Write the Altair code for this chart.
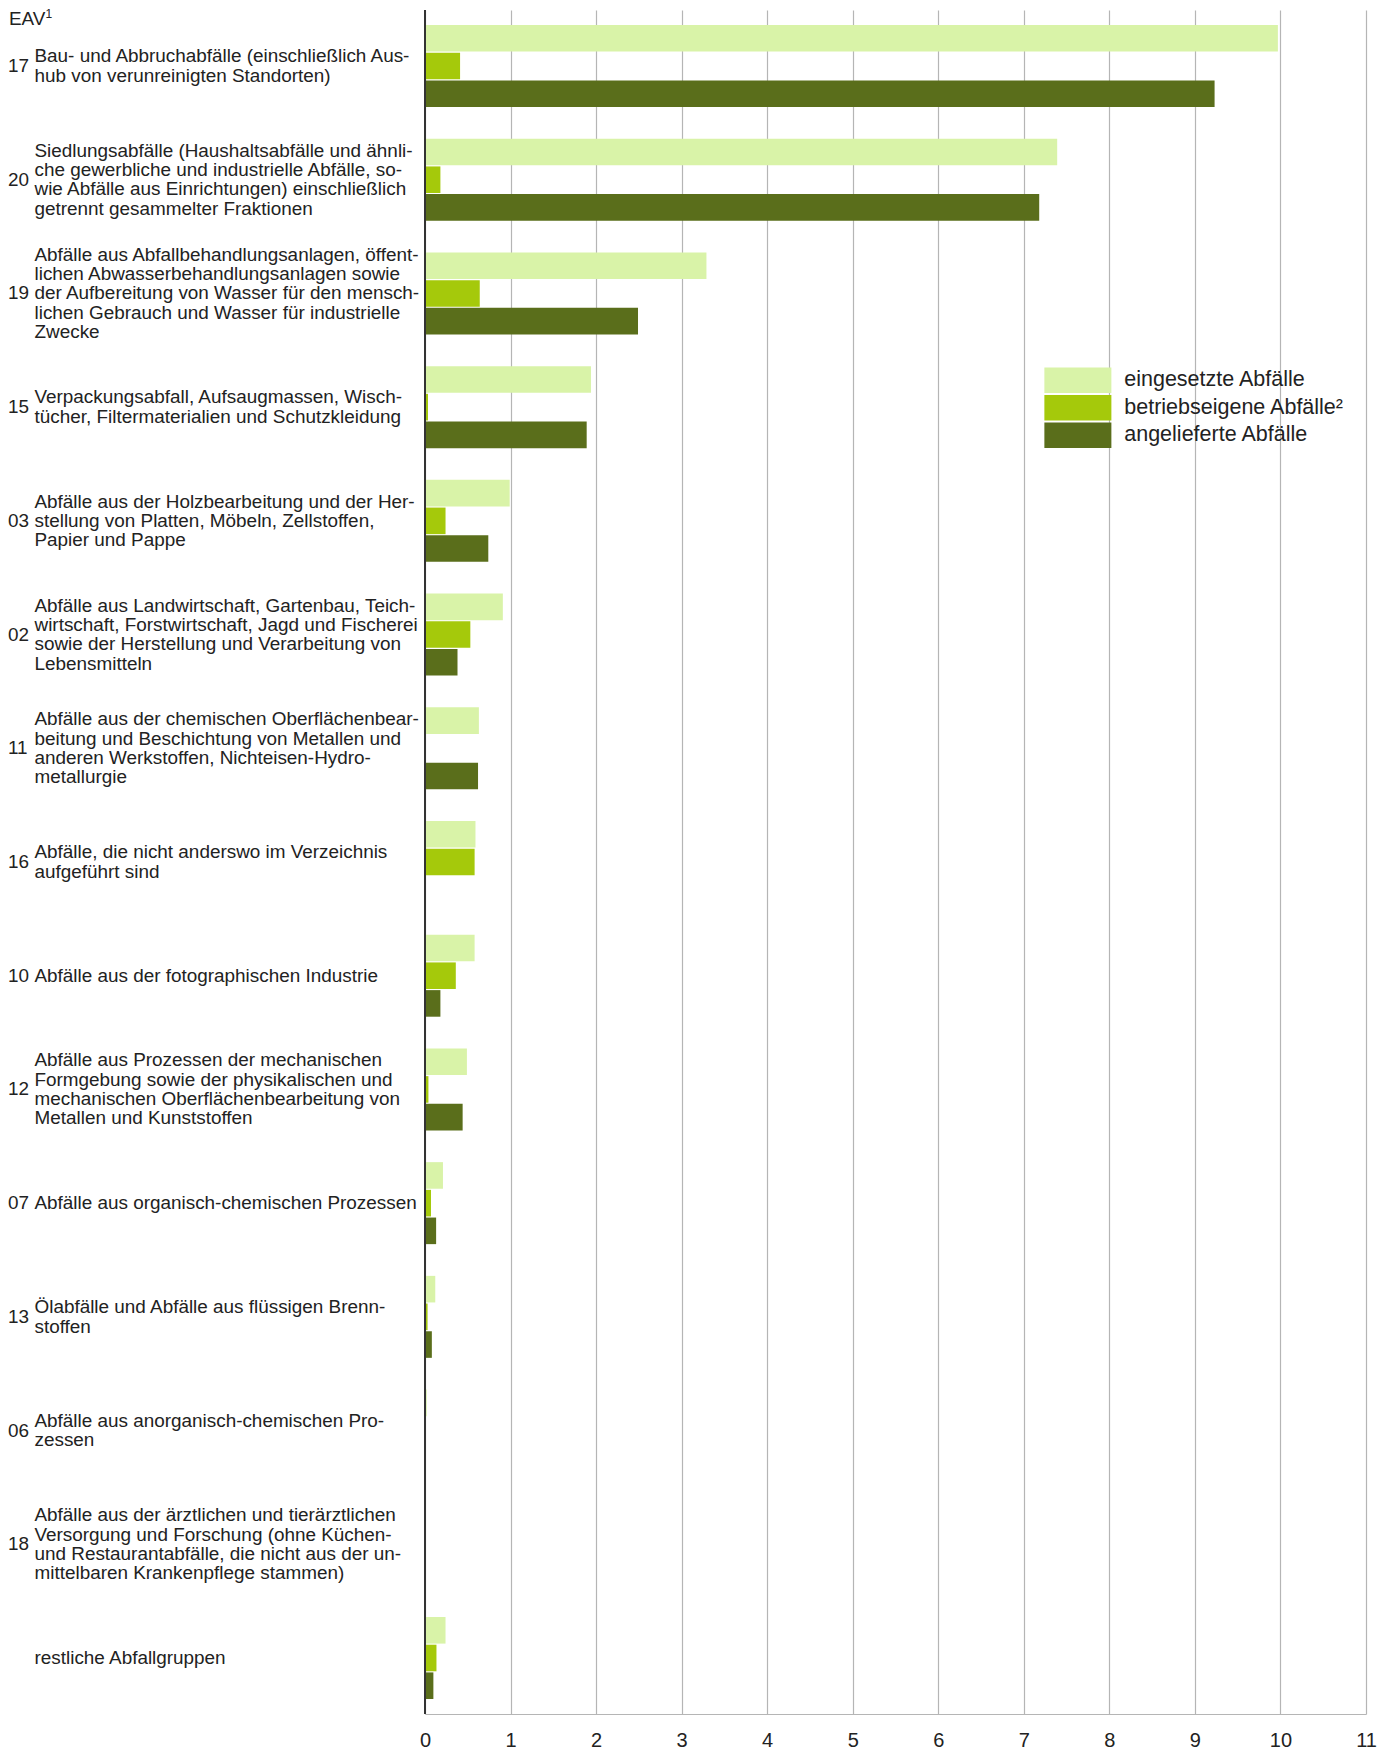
import altair as alt
import pandas as pd

keys = ["17", "20", "19", "15", "03", "02", "11", "16", "10", "12", "07", "13", "06", "18", "rest"]
codes = ["17", "20", "19", "15", "03", "02", "11", "16", "10", "12", "07", "13", "06", "18", ""]
labels = [
    "Bau- und Abbruchabfälle (einschließlich Aus-\nhub von verunreinigten Standorten)",
    "Siedlungsabfälle (Haushaltsabfälle und ähnli-\nche gewerbliche und industrielle Abfälle, so-\nwie Abfälle aus Einrichtungen) einschließlich\ngetrennt gesammelter Fraktionen",
    "Abfälle aus Abfallbehandlungsanlagen, öffent-\nlichen Abwasserbehandlungsanlagen sowie\nder Aufbereitung von Wasser für den mensch-\nlichen Gebrauch und Wasser für industrielle\nZwecke",
    "Verpackungsabfall, Aufsaugmassen, Wisch-\ntücher, Filtermaterialien und Schutzkleidung",
    "Abfälle aus der Holzbearbeitung und der Her-\nstellung von Platten, Möbeln, Zellstoffen,\nPapier und Pappe",
    "Abfälle aus Landwirtschaft, Gartenbau, Teich-\nwirtschaft, Forstwirtschaft, Jagd und Fischerei\nsowie der Herstellung und Verarbeitung von\nLebensmitteln",
    "Abfälle aus der chemischen Oberflächenbear-\nbeitung und Beschichtung von Metallen und\nanderen Werkstoffen, Nichteisen-Hydro-\nmetallurgie",
    "Abfälle, die nicht anderswo im Verzeichnis\naufgeführt sind",
    "Abfälle aus der fotographischen Industrie",
    "Abfälle aus Prozessen der mechanischen\nFormgebung sowie der physikalischen und\nmechanischen Oberflächenbearbeitung von\nMetallen und Kunststoffen",
    "Abfälle aus organisch-chemischen Prozessen",
    "Ölabfälle und Abfälle aus flüssigen Brenn-\nstoffen",
    "Abfälle aus anorganisch-chemischen Pro-\nzessen",
    "Abfälle aus der ärztlichen und tierärztlichen\nVersorgung und Forschung (ohne Küchen-\nund Restaurantabfälle, die nicht aus der un-\nmittelbaren Krankenpflege stammen)",
    "restliche Abfallgruppen",
]

series = ["eingesetzte Abfälle", "betriebseigene Abfälle²", "angelieferte Abfälle"]
colors = ["#d9f3a8", "#a5c90b", "#5a6e1b"]

eingesetzt = [9.97, 7.39, 3.29, 1.94, 0.99, 0.91, 0.63, 0.59, 0.58, 0.49, 0.21, 0.12, 0.02, 0.005, 0.24]
betriebseigen = [0.41, 0.18, 0.64, 0.035, 0.24, 0.53, 0.0, 0.58, 0.36, 0.04, 0.07, 0.03, 0.01, 0.0, 0.134]
angeliefert = [9.23, 7.18, 2.49, 1.89, 0.74, 0.38, 0.62, 0.0, 0.18, 0.44, 0.13, 0.08, 0.0, 0.01, 0.098]

x_ticks = list(range(0, 12))

rows = []
for i, k in enumerate(keys):
    for s, vals in zip(series, [eingesetzt, betriebseigen, angeliefert]):
        rows.append({"key": k, "series": s, "value": vals[i]})
df = pd.DataFrame(rows)
lab_df = pd.DataFrame({"key": keys, "code": codes, "label": labels,
                       "nlines": [l.count("\n") + 1 for l in labels]})
title_df = pd.DataFrame({"t": ["EAV"], "s": ["1"]})

FONT = "Liberation Sans"
TXT = "#222222"
FS = 18.9
LH = 19.3

yscale = alt.Scale(domain=keys, paddingInner=0.279, paddingOuter=0.132)

bars = alt.Chart(df).mark_bar().encode(
    x=alt.X("value:Q", scale=alt.Scale(domain=[0, 11], nice=False),
            axis=alt.Axis(values=x_ticks, format="d", grid=True, gridColor="#b5b5b5", gridWidth=1.2,
                          domainColor="#b5b5b5", domainWidth=1.2, ticks=False,
                          labelFontSize=20, labelFont=FONT, labelColor=TXT,
                          labelFlush=False, labelPadding=16, title=None)),
    y=alt.Y("key:N", scale=yscale, axis=None),
    yOffset=alt.YOffset("series:N", sort=series,
                        scale=alt.Scale(domain=series, paddingInner=0.04, paddingOuter=0)),
    color=alt.Color("series:N",
                    scale=alt.Scale(domain=series, range=colors),
                    legend=alt.Legend(title=None, orient="none", legendX=617, legendY=359.5,
                                      padding=0,
                                      symbolType="M-1,-1.52H7V1.52H-1Z", symbolSize=280.6,
                                      symbolStrokeWidth=0, symbolOpacity=1,
                                      labelFontSize=21.5, labelFont=FONT, labelColor=TXT,
                                      labelOffset=60.75, rowPadding=1.5, labelLimit=400)),
)

code_text = alt.Chart(lab_df).mark_text(
    align="left", baseline="middle", fontSize=FS, font=FONT, color=TXT
).encode(
    x=alt.value(-417),
    y=alt.Y("key:N", scale=yscale, axis=None),
    text="code:N",
)

label_layers = []
for n in sorted(set(lab_df["nlines"])):
    label_layers.append(
        alt.Chart(lab_df).transform_filter(alt.datum.nlines == n).mark_text(
            align="left", baseline="middle", fontSize=FS, font=FONT, color=TXT,
            lineBreak="\n", lineHeight=LH, dy=-(n - 1) * LH / 2
        ).encode(
            x=alt.value(-390.5),
            y=alt.Y("key:N", scale=yscale, axis=None),
            text="label:N",
        )
    )

eav = alt.Chart(title_df).mark_text(
    align="left", baseline="middle", fontSize=FS, font=FONT, color=TXT
).encode(x=alt.value(-416), y=alt.value(9), text="t:N")
eav_sup = alt.Chart(title_df).mark_text(
    align="left", baseline="top", fontSize=12, font=FONT, color=TXT
).encode(x=alt.value(-379.5), y=alt.value(-1), text="s:N")

zero = alt.Chart(pd.DataFrame({"v": [0]})).mark_rule(color="#333333", strokeWidth=2).encode(
    x="v:Q"
)

chart = alt.layer(bars, code_text, *label_layers, eav, eav_sup, zero).properties(
    width=941, height=1704,
    padding={"left": 417, "top": 2, "right": 16, "bottom": 41},
    autosize=alt.AutoSizeParams(type="none"),
).configure_view(stroke=None)

chart.save("out.html", embed_options={"renderer": "svg", "actions": False})
